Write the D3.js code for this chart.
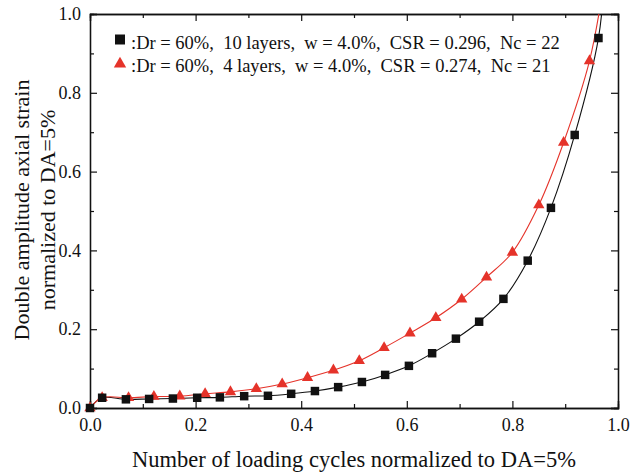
<!DOCTYPE html>
<html lang="en">
    <head>
        <meta charset="utf-8">
        <title>D3</title>
        <script type="text/javascript" src="https://cdnjs.cloudflare.com/ajax/libs/d3/7.8.5/d3.min.js"></script>
        <style type="text/css">
            body { margin: 0; background: #fff; }
            text { font-family: "Liberation Serif", "Times New Roman", serif; fill: #111; }
        </style>
    </head>
    <body>
        <script type="text/javascript">
            // series 1: Dr = 60%, 10 layers (black squares)
            var blackX = [0, 0.023, 0.068, 0.112, 0.157, 0.203, 0.246, 0.292, 0.337, 0.381, 0.426, 0.470, 0.515,
                          0.559, 0.604, 0.648, 0.693, 0.737, 0.783, 0.829, 0.873, 0.918, 0.963];
            var blackY = [0, 0.026, 0.022, 0.023, 0.024, 0.026, 0.027, 0.030, 0.031, 0.036, 0.043, 0.053, 0.066,
                          0.084, 0.107, 0.139, 0.176, 0.219, 0.277, 0.374, 0.508, 0.693, 0.939];
            // series 2: Dr = 60%, 4 layers (red triangles)
            var redX = [0, 0.023, 0.073, 0.121, 0.170, 0.218, 0.266, 0.315, 0.364, 0.412, 0.461, 0.510,
                        0.557, 0.606, 0.655, 0.704, 0.751, 0.800, 0.850, 0.897, 0.946];
            var redY = [0, 0.026, 0.026, 0.029, 0.030, 0.036, 0.041, 0.049, 0.061, 0.077, 0.096, 0.120,
                        0.153, 0.190, 0.229, 0.276, 0.332, 0.395, 0.515, 0.674, 0.881];
            // where each curve leaves the top of the frame (line only, no marker)
            var blackEnd = [0.974, 1.09];
            var redEnd = [0.978, 1.12];

            var legendLabels = [":Dr = 60%,\u200210 layers,\u2002w = 4.0%,\u2002CSR = 0.296,\u2002Nc = 22",
                                ":Dr = 60%,\u20024 layers,\u2002w = 4.0%,\u2002CSR = 0.274,\u2002Nc = 21"];
            var majorTicks = [0, 0.2, 0.4, 0.6, 0.8, 1.0];
            var minorTicks = [0.1, 0.3, 0.5, 0.7, 0.9];
            var xTitle = "Number of loading cycles normalized to DA=5%";
            var yTitle = ["Double amplitude axial strain", "normalized to DA=5%"];

            var w = 630;
            var h = 473;
            var mLeft = 90, mRight = 618, mTop = 14, mBottom = 408;
            var black = "#111111";
            var red = "#e5332a";

            var x = d3.scaleLinear().domain([0, 1]).range([mLeft, mRight]);
            var y = d3.scaleLinear().domain([0, 1]).range([mBottom, mTop]);

            var svg = d3.select("body")
                        .append("svg")
                        .attr("width", w)
                        .attr("height", h);

            svg.append("clipPath").attr("id", "clip")
               .append("rect")
               .attr("x", mLeft).attr("y", mTop)
               .attr("width", mRight - mLeft).attr("height", mBottom - mTop);

            var fmt = d3.format(".1f");

            // axes, ticks inward
            function axisPair(axisFn, scale, tx, ty, pad, labels) {
                svg.append("g")
                   .attr("transform", "translate(" + tx + "," + ty + ")")
                   .call(axisFn(scale).tickValues(minorTicks).tickSize(-4).tickFormat(""));
                var g = svg.append("g")
                   .attr("transform", "translate(" + tx + "," + ty + ")")
                   .call(axisFn(scale).tickValues(majorTicks).tickSize(-7)
                         .tickPadding(pad).tickFormat(labels ? fmt : ""));
                return g;
            }

            var gx = axisPair(d3.axisBottom, x, 0, mBottom, 10, true);
            axisPair(d3.axisTop, x, 0, mTop, 0, false);
            var gy = axisPair(d3.axisLeft, y, mLeft, 0, 9, true);
            axisPair(d3.axisRight, y, mRight, 0, 0, false);

            svg.selectAll(".domain").attr("stroke", black).attr("stroke-width", 1.3);
            svg.selectAll(".tick line").attr("stroke", black).attr("stroke-width", 1.2);
            svg.selectAll(".tick text").attr("font-size", 18).attr("font-family", "Liberation Serif").attr("fill", black);

            // curves
            var series = [
                { xs: blackX, ys: blackY, end: blackEnd, color: black, shape: d3.symbolSquare, size: 72, legSize: 100 },
                { xs: redX, ys: redY, end: redEnd, color: red, shape: d3.symbolTriangle, size: 56, legSize: 66 }
            ];

            var line = d3.line()
                         .x(function(d) { return x(d[0]); })
                         .y(function(d) { return y(d[1]); })
                         .curve(d3.curveCatmullRom.alpha(0.5));

            series.forEach(function(s) {
                var pts = s.xs.map(function(v, i) { return [v, s.ys[i]]; });
                svg.append("path")
                   .datum(pts.concat([s.end]))
                   .attr("clip-path", "url(#clip)")
                   .attr("fill", "none")
                   .attr("stroke", s.color)
                   .attr("stroke-width", 1.1)
                   .attr("d", line);
            });

            series.slice().reverse().forEach(function(s) {
                var pts = s.xs.map(function(v, i) { return [v, s.ys[i]]; });
                svg.selectAll(null)
                   .data(pts)
                   .enter()
                   .append("path")
                   .attr("transform", function(d) { return "translate(" + x(d[0]) + "," + y(d[1]) + ")"; })
                   .attr("d", d3.symbol().type(s.shape).size(s.size))
                   .attr("fill", s.color);
            });

            // legend
            var legend = svg.append("g");
            legendLabels.forEach(function(t, i) {
                var ly = 39.5 + i * 23;
                legend.append("path")
                      .attr("transform", "translate(120," + (ly + i * 1.5) + ")")
                      .attr("d", d3.symbol().type(series[i].shape).size(series[i].legSize))
                      .attr("fill", series[i].color);
                legend.append("text")
                      .attr("x", 131)
                      .attr("y", ly + 9.5)
                      .attr("font-size", 18.5)
                      .text(t);
            });

            // axis titles
            svg.append("text")
               .attr("x", (mLeft + mRight) / 2)
               .attr("y", 467)
               .attr("text-anchor", "middle")
               .attr("font-size", 22.5)
               .text(xTitle);

            yTitle.forEach(function(t, i) {
                svg.append("text")
                   .attr("transform", "translate(" + (29 + i * 26) + ",210) rotate(-90)")
                   .attr("text-anchor", "middle")
                   .attr("font-size", 22)
                   .text(t);
            });
        </script>
    </body>
</html>
